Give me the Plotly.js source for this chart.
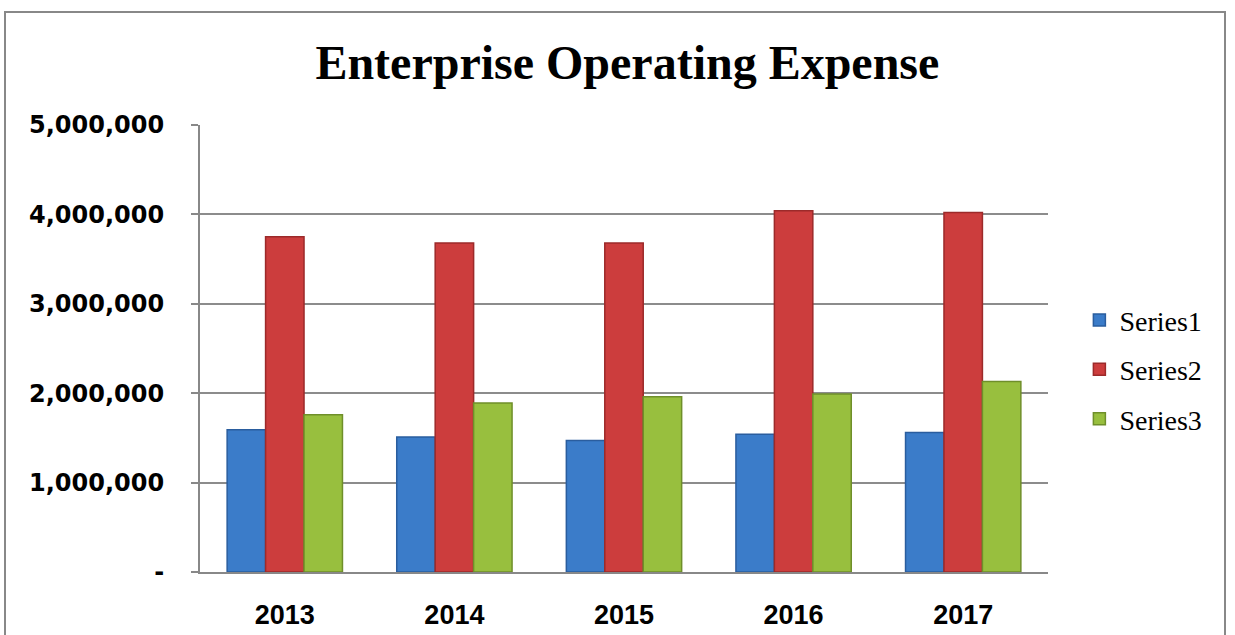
<!DOCTYPE html>
<html>
<head>
<meta charset="utf-8">
<script src="https://cdn.plot.ly/plotly-3.0.1.min.js"></script>
<style>
  html, body { margin: 0; padding: 0; background: #fff; }
  #chart { width: 1235px; height: 635px; position: absolute; left: 0; top: 0; }
  #frame { position: absolute; left: 4px; top: 11px; width: 1222px; height: 640px;
           border: 2px solid #888; pointer-events: none; box-sizing: border-box; }
</style>
</head>
<body>
<div id="chart"></div>
<div id="frame"></div>
<script>
const years = ['2013', '2014', '2015', '2016', '2017'];
const series1 = [1590000, 1510000, 1470000, 1540000, 1560000];
const series2 = [3750000, 3680000, 3680000, 4040000, 4020000];
const series3 = [1760000, 1890000, 1960000, 1990000, 2130000];
const seriesNames = ['Series1', 'Series2', 'Series3'];
const yTickVals = [0, 1000000, 2000000, 3000000, 4000000, 5000000];
const yTickText = ['-', '1,000,000', '2,000,000', '3,000,000', '4,000,000', '5,000,000'];

const fills = ['#3b7cc9', '#cc3d3d', '#98bf3e'];
const edges = ['#2a5d9e', '#9c2a2a', '#6f8f2a'];
const data = [series1, series2, series3].map((vals, i) => ({
  type: 'bar',
  name: seriesNames[i],
  x: years,
  y: vals,
  legendgroup: 'g' + i,
  marker: { color: fills[i], line: { color: edges[i], width: 1.5 } },
  hoverinfo: 'x+y+name'
}));

const layout = {
  width: 1235,
  height: 635,
  paper_bgcolor: '#ffffff',
  plot_bgcolor: '#ffffff',
  margin: { l: 200, r: 187, t: 125, b: 62.5 },
  title: {
    text: 'Enterprise Operating Expense',
    font: { family: '"Liberation Serif", "Times New Roman", serif', size: 48, color: '#000', weight: 'bold' },
    x: 0.508, xanchor: 'center',
    xref: 'container', yref: 'container',
    y: 1 - 62 / 635, yanchor: 'middle'
  },
  barmode: 'group',
  bargap: 0.32,
  bargroupgap: 0,
  xaxis: {
    type: 'category',
    tickfont: { family: '"Liberation Sans", Arial, sans-serif', size: 27, color: '#000', weight: 'bold' },
    showline: true, linecolor: '#888', linewidth: 2,
    ticks: '', ticklabelstandoff: 18,
    showgrid: false, zeroline: false
  },
  yaxis: {
    range: [0, 5000000],
    tickvals: yTickVals,
    ticktext: yTickText,
    tickfont: { family: '"DejaVu Sans", Arial, sans-serif', size: 24, color: '#000', weight: 'bold' },
    showline: true, linecolor: '#888', linewidth: 2,
    ticks: 'outside', ticklen: 7, tickcolor: '#888', tickwidth: 2,
    ticklabelstandoff: 22,
    showgrid: true, gridcolor: '#8c8c8c', gridwidth: 2,
    zeroline: false
  },
  showlegend: true,
  legend: {
    x: 1.037, xanchor: 'left',
    y: 0.4525, yanchor: 'middle',
    traceorder: 'grouped',
    tracegroupgap: 10,
    font: { family: '"Liberation Serif", "Times New Roman", serif', size: 28, color: '#000' },
    bgcolor: 'rgba(0,0,0,0)'
  }
};

Plotly.newPlot('chart', data, layout, { displayModeBar: false, staticPlot: true });
</script>
</body>
</html>
